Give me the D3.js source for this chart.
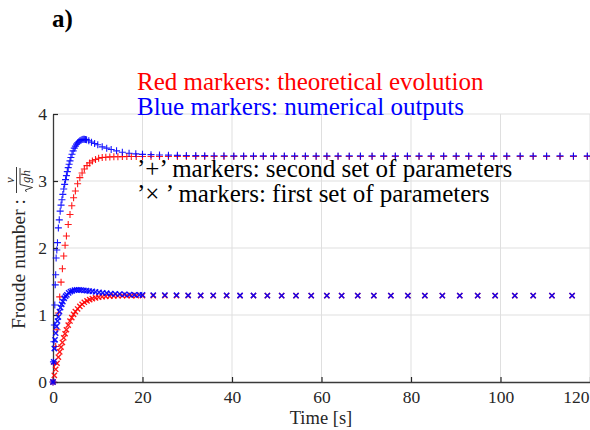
<!DOCTYPE html>
<html>
<head>
<meta charset="utf-8">
<script src="https://cdn.jsdelivr.net/npm/d3@7"></script>
<style>
body { margin: 0; background: #fff; }
svg { display: block; }
</style>
</head>
<body>
<script>
// axis ticks
var xTicks = [0, 20, 40, 60, 80, 100, 120];
var yTicks = [0, 1, 2, 3, 4];

// theoretical (red) curves, early part, shared sampling
var tTheoEarly = [0, 0.3, 0.6, 0.9, 1.2, 1.5, 1.8, 2.1, 2.4, 2.7, 3.0, 3.4, 3.8, 4.2, 4.6, 5.0, 5.5, 6.0, 6.5, 7.0,
  7.6, 8.2, 8.8, 9.5, 10.2, 11.0, 11.8, 12.7, 13.6, 14.5, 15.5, 16.5, 17.5, 18.6];
var theoPlusEarly = [0, 0.27, 0.53, 0.78, 1.03, 1.27, 1.49, 1.69, 1.88, 2.04, 2.18, 2.35, 2.50, 2.63, 2.75, 2.85, 2.96, 3.05, 3.12, 3.18,
  3.23, 3.27, 3.30, 3.32, 3.34, 3.35, 3.355, 3.36, 3.362, 3.363, 3.364, 3.365, 3.365, 3.365];
var theoCrossEarly = [0, 0.10, 0.19, 0.28, 0.37, 0.45, 0.52, 0.59, 0.66, 0.72, 0.78, 0.85, 0.91, 0.96, 1.01, 1.05, 1.09, 1.13, 1.16, 1.19,
  1.21, 1.23, 1.245, 1.255, 1.265, 1.272, 1.278, 1.282, 1.285, 1.287, 1.288, 1.289, 1.289, 1.29];

// numerical (blue) curves, early part
var tNumPlusEarly = [0, 0.1, 0.2, 0.3, 0.4, 0.5, 0.6, 0.7, 0.85, 1.0, 1.2, 1.4, 1.6, 1.8, 2.0, 2.2, 2.4, 2.6, 2.8, 3.0,
  3.2, 3.4, 3.6, 3.8, 4.0, 4.25, 4.5, 4.75, 5.0, 5.25, 5.5, 5.75, 6.0, 6.25, 6.5, 6.75, 7.0, 7.25, 7.5, 8.0,
  8.6, 9.3, 10.0, 11.0, 12.0, 13.0, 14.2, 15.5, 17.0, 18.5];
var numPlusEarly = [0, 0.30, 0.60, 0.85, 1.15, 1.45, 1.60, 1.85, 1.97, 2.08, 2.30, 2.42, 2.55, 2.64, 2.72, 2.80, 2.88, 2.95, 3.02, 3.08,
  3.14, 3.20, 3.25, 3.30, 3.35, 3.40, 3.45, 3.49, 3.52, 3.55, 3.57, 3.585, 3.60, 3.61, 3.62, 3.623, 3.622, 3.62, 3.615, 3.60,
  3.58, 3.56, 3.54, 3.51, 3.49, 3.47, 3.45, 3.43, 3.415, 3.405];
var tNumCrossEarly = [0, 0.15, 0.3, 0.45, 0.6, 0.8, 1.0, 1.2, 1.45, 1.7, 1.95, 2.2, 2.5, 2.8, 3.1, 3.5, 3.9, 4.3, 4.8, 5.3,
  5.8, 6.3, 6.9, 7.5, 8.1, 8.8, 9.5, 10.3, 11.1, 12.0, 12.9, 13.9, 14.9, 16.0, 17.1, 18.2, 19.3];
var numCrossEarly = [0, 0.30, 0.50, 0.63, 0.73, 0.83, 0.91, 0.97, 1.05, 1.11, 1.16, 1.20, 1.25, 1.28, 1.30, 1.33, 1.35, 1.36, 1.37, 1.375,
  1.375, 1.372, 1.368, 1.363, 1.358, 1.352, 1.345, 1.338, 1.332, 1.325, 1.32, 1.315, 1.311, 1.307, 1.304, 1.302, 1.30];

// tails (both red and blue sampled at same instants)
var tPlusTail = [20.0, 21.9, 23.8, 25.8, 27.8, 29.8, 31.9, 33.9, 36.0, 38.2, 40.4, 42.6, 44.8, 47.0, 49.3, 51.7, 54.0, 56.4, 58.8, 61.2,
  63.7, 66.2, 68.7, 71.3, 73.9, 76.5, 79.2, 81.8, 84.5, 87.3, 90.1, 92.9, 95.7, 98.5, 101.4, 104.4, 107.3, 110.3, 113.3, 116.3, 119.4];
var theoPlusTail = [3.365, 3.365, 3.365, 3.365, 3.365, 3.365, 3.365, 3.365, 3.365, 3.365, 3.365, 3.365, 3.365, 3.365, 3.365, 3.365, 3.365, 3.365, 3.365, 3.365,
  3.365, 3.365, 3.365, 3.365, 3.365, 3.365, 3.365, 3.365, 3.365, 3.365, 3.365, 3.365, 3.365, 3.365, 3.365, 3.365, 3.365, 3.365, 3.365, 3.365, 3.365];
var numPlusTail = [3.398, 3.393, 3.389, 3.386, 3.383, 3.381, 3.379, 3.378, 3.377, 3.376, 3.375, 3.375, 3.375, 3.375, 3.375, 3.375, 3.375, 3.375, 3.375, 3.375,
  3.375, 3.375, 3.375, 3.375, 3.375, 3.375, 3.375, 3.375, 3.375, 3.375, 3.375, 3.375, 3.375, 3.375, 3.375, 3.375, 3.375, 3.375, 3.375, 3.375, 3.375];
var tCrossTail = [20.0, 22.4, 25.0, 27.6, 30.2, 33.0, 35.8, 38.8, 41.8, 44.8, 47.9, 51.1, 54.3, 57.7, 61.2, 64.5, 68.1, 71.7, 75.5, 79.3,
  83.1, 87.0, 90.9, 94.9, 98.8, 103.2, 107.3, 111.5, 116.0];
var theoCrossTail = [1.29, 1.29, 1.29, 1.29, 1.29, 1.29, 1.29, 1.29, 1.29, 1.29, 1.29, 1.29, 1.29, 1.29, 1.29, 1.29, 1.29, 1.29, 1.29, 1.29,
  1.29, 1.29, 1.29, 1.29, 1.29, 1.29, 1.29, 1.29, 1.29];
var numCrossTail = [1.30, 1.298, 1.296, 1.295, 1.294, 1.293, 1.292, 1.292, 1.291, 1.291, 1.29, 1.29, 1.29, 1.29, 1.29, 1.29, 1.29, 1.29, 1.29, 1.29,
  1.29, 1.29, 1.29, 1.29, 1.29, 1.29, 1.29, 1.29, 1.29];

//Width and height
var w = 590, h = 430;
var plotL = 53, plotR = 590, plotT = 114, plotB = 382;
var axisCol = "#262626";
var serif = '"Liberation Serif", "Times New Roman", Times, serif';

var svg = d3.select("body").append("svg")
  .attr("width", w)
  .attr("height", h)
  .style("font-family", serif);
svg.append("rect").attr("width", w).attr("height", h).attr("fill", "#fff");

var x = d3.scaleLinear().domain([0, 120]).range([plotL, plotR]);
var y = d3.scaleLinear().domain([0, 4]).range([plotB, plotT]);

// grid
svg.append("g").selectAll("line")
  .data(xTicks.slice(1))
  .enter().append("line")
  .attr("x1", function(d) { return x(d); })
  .attr("x2", function(d) { return x(d); })
  .attr("y1", plotT).attr("y2", plotB)
  .attr("stroke", "#dfdfdf").attr("stroke-width", 1);
svg.append("g").selectAll("line")
  .data(yTicks.slice(1))
  .enter().append("line")
  .attr("x1", plotL).attr("x2", plotR)
  .attr("y1", function(d) { return y(d); })
  .attr("y2", function(d) { return y(d); })
  .attr("stroke", "#dfdfdf").attr("stroke-width", 1);

// axes
var xAxis = svg.append("g")
  .attr("transform", "translate(0," + plotB + ")")
  .call(d3.axisBottom(x).tickValues(xTicks).tickFormat(d3.format("d"))
    .tickSizeInner(-5).tickSizeOuter(0).tickPadding(9));
var yAxis = svg.append("g")
  .attr("transform", "translate(" + plotL + ",0)")
  .call(d3.axisLeft(y).tickValues(yTicks).tickFormat(d3.format("d"))
    .tickSizeInner(-5).tickSizeOuter(0).tickPadding(6));
[xAxis, yAxis].forEach(function(a) {
  a.attr("font-family", null).attr("font-size", null);
  a.selectAll("path.domain").attr("stroke", "#3a3a3a").attr("stroke-width", 1.3);
  a.selectAll(".tick line").attr("stroke", axisCol).attr("stroke-width", 1.2);
  a.selectAll(".tick text")
    .attr("fill", axisCol)
    .style("font-family", serif)
    .style("font-size", "17.5px");
});
// last x label kept inside the figure
xAxis.selectAll(".tick text").filter(function(d) { return d === 120; })
  .attr("text-anchor", "end").attr("x", -1);

// markers
var plusPath = "M-3.5,0H3.5M0,-3.5V3.5";
var crossPath = "M-2.6,-2.6L2.6,2.6M-2.6,2.6L2.6,-2.6";

function drawMarkers(ts, vs, path, color, sw, op) {
  svg.append("g").selectAll("path")
    .data(d3.zip(ts, vs))
    .enter().append("path")
    .attr("d", path)
    .attr("transform", function(d) { return "translate(" + x(d[0]) + "," + y(d[1]) + ")"; })
    .attr("fill", "none")
    .attr("stroke", color)
    .attr("stroke-width", sw)
    .attr("stroke-opacity", op);
}

drawMarkers(tTheoEarly.concat(tCrossTail), theoCrossEarly.concat(theoCrossTail), crossPath, "#ff0000", 1.4, 0.9);
drawMarkers(tTheoEarly.concat(tPlusTail), theoPlusEarly.concat(theoPlusTail), plusPath, "#ff0000", 1.1, 0.9);
drawMarkers(tNumCrossEarly.concat(tCrossTail), numCrossEarly.concat(numCrossTail), crossPath, "#0000ff", 1.5, 0.9);
drawMarkers(tNumPlusEarly.concat(tPlusTail), numPlusEarly.concat(numPlusTail), plusPath, "#0000ff", 1.1, 0.9);

// annotations
svg.append("text").attr("x", 52).attr("y", 27)
  .style("font-family", serif).style("font-size", "25px").style("font-weight", "bold")
  .attr("fill", "#000").text("a)");

var notes = [
  { t: "Red markers: theoretical evolution", c: "#ff0000", y: 90 },
  { t: "Blue markers: numerical outputs", c: "#0000ff", y: 115 },
  { t: "\u2019+\u2019 markers: second set of parameters", c: "#000", y: 177 },
  { t: "\u2019\u00d7 \u2019 markers: first set of parameters", c: "#000", y: 202 }
];
svg.append("g").selectAll("text")
  .data(notes)
  .enter().append("text")
  .attr("x", 137)
  .attr("y", function(d) { return d.y; })
  .style("font-family", serif)
  .style("font-size", "25px")
  .attr("fill", function(d) { return d.c; })
  .text(function(d) { return d.t; });

// x label
svg.append("text").attr("x", 321).attr("y", 424)
  .attr("text-anchor", "middle")
  .style("font-family", serif).style("font-size", "18.5px")
  .attr("fill", axisCol)
  .text("Time [s]");

// y label with fraction v / sqrt(gh)
var yl = svg.append("g");
var ylText = yl.append("text").attr("x", 0).attr("y", 0)
  .style("font-family", serif).style("font-size", "19.5px")
  .attr("fill", axisCol).text("Froude number :");
var L = ylText.node().getComputedTextLength();
var fx = L + 7;
var fr = yl.append("g").attr("transform", "translate(" + fx + ",0)");
var gh = fr.append("text").attr("x", 9).attr("y", 5)
  .style("font-family", serif).style("font-size", "13px").style("font-style", "italic")
  .attr("fill", axisCol).text("gh");
var ghW = gh.node().getComputedTextLength();
var fw = 9 + ghW + 2;
fr.append("path")
  .attr("d", "M0,1.5L2,0.3L4.5,7.5L7.5,-5H" + fw)
  .attr("fill", "none").attr("stroke", axisCol).attr("stroke-width", 0.9);
fr.append("line").attr("x1", -1).attr("x2", fw + 1).attr("y1", -8.5).attr("y2", -8.5)
  .attr("stroke", axisCol).attr("stroke-width", 0.9);
fr.append("text").attr("x", fw / 2).attr("y", -11).attr("text-anchor", "middle")
  .style("font-family", serif).style("font-size", "13px").style("font-style", "italic")
  .attr("fill", axisCol).text("v");
var total = fx + fw + 1;
var cy = (plotT + plotB) / 2;
yl.attr("transform", "translate(25," + (cy + total / 2) + ") rotate(-90)");
</script>
</body>
</html>
